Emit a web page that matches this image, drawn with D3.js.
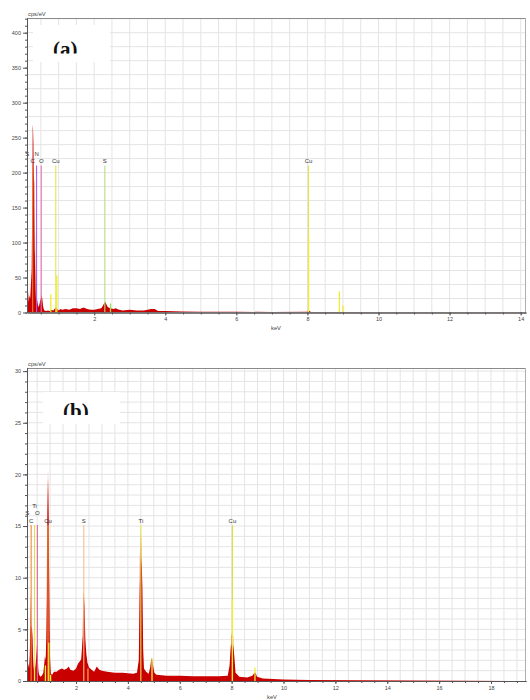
<!DOCTYPE html>
<html><head><meta charset="utf-8">
<script src="https://cdn.jsdelivr.net/npm/d3@7"></script>
<style>body{margin:0;background:#fff}svg{display:block}</style>
</head><body>
<svg id="chart" width="530" height="700"></svg>
<script>
// ================= DATA =================
// Panel (a)
const xTicksA = [2, 4, 6, 8, 10, 12, 14];
const yTicksA = [0, 50, 100, 150, 200, 250, 300, 350, 400];
// measured spectrum [keV, cps/eV]
const spectrumA = [
  [0.11,0],[0.12,40],[0.13,60],[0.14,30],[0.16,15],[0.18,25],[0.20,20],[0.22,40],[0.24,60],
  [0.25,110],[0.26,150],[0.27,269],[0.28,262],[0.29,245],[0.30,200],[0.31,120],[0.32,90],
  [0.33,82],[0.34,60],[0.35,30],[0.36,20],[0.37,12],[0.38,18],[0.39,20],[0.40,16],[0.42,10],
  [0.44,8],[0.46,12],[0.48,16],[0.50,20],[0.52,25],[0.54,20],[0.56,10],[0.58,5],[0.60,3],
  [0.65,2],[0.70,3],[0.75,2],[0.80,4],[0.85,3],[0.90,6],[0.93,8],[0.96,5],[1.00,3],[1.05,5],
  [1.10,4],[1.20,5],[1.30,4],[1.40,6],[1.50,6],[1.60,5],[1.70,7],[1.80,5],[1.90,4],[2.00,4],
  [2.10,5],[2.20,6],[2.25,10],[2.28,13],[2.31,15],[2.34,12],[2.38,8],[2.45,6],[2.55,5],
  [2.60,6],[2.70,4],[2.80,3],[3.00,4],[3.20,3],[3.40,3],[3.60,5],[3.70,5],[3.80,2],[4.00,2],
  [4.50,1.5],[5.00,1.2],[6.00,1],[7.00,0.8],[8.00,1.2],[8.04,3],[8.10,0.8],[9.00,0.8],
  [10.00,0.5],[14.15,0.3]
];
// fitted peak profiles [keV, cps/eV]
const fitA = [
  [0.11,0],[0.24,0],[0.27,150],[0.29,200],[0.32,185],[0.34,100],[0.36,0],[0.37,0],[0.39,18],
  [0.42,0],[0.48,0],[0.52,26],[0.56,0],[2.20,0],[2.28,14],[2.31,16],[2.36,0],[14.15,0]
];
// element markers (energy keV)
const elementsA = [
  {el:"S", e:0.12},{el:"C", e:0.27},{el:"N", e:0.38},{el:"O", e:0.51},
  {el:"Cu", e:0.92},{el:"S", e:2.30},{el:"Cu", e:8.03}
];
const markerHeightA = 210;   // cps/eV reached by marker lines
// secondary line intensities [keV, cps/eV]
const linesA = [
  {el:"S", e:0.12, v:108},{el:"Cu", e:0.78, v:26},{el:"Cu", e:0.95, v:53},
  {el:"S", e:2.46, v:13},{el:"Cu", e:8.03, v:108},{el:"Cu", e:8.90, v:30},{el:"Cu", e:9.00, v:10}
];

// Panel (b)
const xTicksB = [2, 4, 6, 8, 10, 12, 14, 16, 18];
const yTicksB = [0, 5, 10, 15, 20, 25, 30];
const spectrumB = [
  [0.11,0],[0.13,1],[0.16,1.7],[0.19,1.2],[0.22,2.5],[0.24,5],[0.26,8.6],[0.27,6],[0.28,5],
  [0.30,5.2],[0.32,4],[0.34,2.5],[0.36,1.5],[0.38,1],[0.40,1.8],[0.42,1.2],[0.44,1.6],
  [0.47,2.4],[0.50,3.3],[0.52,2.5],[0.55,1],[0.58,0.6],[0.62,0.4],[0.68,0.5],[0.74,0.8],
  [0.78,1.8],[0.80,2.4],[0.83,2.0],[0.86,4.4],[0.88,8],[0.90,16],[0.92,19.6],[0.94,16],
  [0.96,11],[0.98,5],[1.00,2.2],[1.03,0.7],[1.08,0.6],[1.15,0.9],[1.25,0.9],[1.35,1.1],
  [1.45,1.2],[1.55,1.1],[1.65,1.2],[1.72,1.4],[1.78,1.1],[1.90,1.0],[2.00,1.2],[2.08,1.7],
  [2.15,1.9],[2.20,2.1],[2.24,3.5],[2.27,4.4],[2.30,8.7],[2.33,7],[2.36,4],[2.40,2.6],
  [2.44,1.8],[2.50,1.3],[2.60,1.1],[2.70,0.9],[2.80,1.4],[2.90,1.1],[3.00,1.0],[3.20,0.9],
  [3.50,0.8],[3.80,0.8],[4.00,0.75],[4.20,0.7],[4.35,0.8],[4.42,2],[4.46,9],[4.49,12.2],
  [4.51,11],[4.53,12],[4.56,9],[4.59,3],[4.62,1.2],[4.70,0.9],[4.80,0.7],[4.86,1.3],
  [4.90,2.1],[4.93,2.2],[4.97,1.5],[5.02,0.8],[5.10,0.6],[5.50,0.5],[6.00,0.5],[6.50,0.45],
  [7.00,0.45],[7.50,0.45],[7.85,0.5],[7.92,1.5],[7.97,3.4],[8.00,3.6],[8.03,2.0],[8.06,3.5],
  [8.10,2.5],[8.15,0.8],[8.30,0.4],[8.60,0.35],[8.80,0.5],[8.88,0.8],[8.92,0.8],[8.98,0.4],
  [9.20,0.25],[9.60,0.2],[10.00,0.15],[11.00,0.1],[13.00,0.08],[15.00,0.05],[17.00,0.03],
  [19.35,0]
];
const fitB = [
  [0.11,0],[0.20,0],[0.23,4.5],[0.26,5.2],[0.30,5.3],[0.33,4],[0.35,0],[0.45,0],[0.48,3.5],
  [0.50,3.4],[0.53,0],[0.82,0],[0.86,5],[0.89,16.3],[0.92,20.4],[0.95,16],[0.99,0],
  [2.20,0],[2.25,4.3],[2.29,8.8],[2.32,7.2],[2.36,0],[4.42,0],[4.46,12],[4.50,14.6],
  [4.53,12.3],[4.58,0],[4.86,0],[4.92,2.2],[4.97,0],[7.94,0],[7.98,4.3],[8.02,4.7],
  [8.06,4.4],[8.10,0],[19.35,0]
];
const elementsB = [
  {el:"S", e:0.12},{el:"C", e:0.27},{el:"Ti", e:0.40},{el:"O", e:0.51},
  {el:"Cu", e:0.92},{el:"S", e:2.30},{el:"Ti", e:4.50},{el:"Cu", e:8.03}
];
const markerHeightB = 15.1;
const linesB = [
  {el:"Ti", e:0.40, v:4.9},{el:"Cu", e:0.82, v:1.5},{el:"Cu", e:0.95, v:3.7},
  {el:"Cu", e:1.02, v:0.6},{el:"S", e:2.46, v:1.2},{el:"Ti", e:4.93, v:2.2},
  {el:"Cu", e:8.03, v:7.8},{el:"Cu", e:8.90, v:1.3}
];

// ================= STYLE / LAYOUT =================
const markerColorsA = ["#a6e36b","#f07a3a","#a25cf2","#e86fb0","#e4e44a","#b4e27a","#e6e63c"];
const labelLevelA   = [1,0,1,0,0,0,0];
const lineColorsA   = {S:"#9ede5e", Cu:"#ecec30"};
const markerColorsB = ["#f2a04a","#f0883a","#e4e040","#e860a8","#f09a3a","#f8c08a","#e8e45a","#dede3a"];
const labelLevelB   = [1,0,2,1,0,0,0,0];
const lineColorsB   = {S:"#f0a050", Cu:"#f0f030", Ti:"#eeee40"};

const svg = d3.select("#chart");
const FONT = "Liberation Sans, Arial, sans-serif";

function drawPanel(cfg) {
  const x = d3.scaleLinear().domain(cfg.xDomain).range([cfg.left, cfg.right]);
  const y = d3.scaleLinear().domain([0, cfg.yMax]).range([cfg.bottom, cfg.top]);
  const g = svg.append("g");

  // grid
  const vg = d3.range(1, Math.floor(cfg.xDomain[1]*2)+1).map(i => i*0.5);
  g.append("g").selectAll("line").data(vg).join("line")
    .attr("x1", d => x(d)).attr("x2", d => x(d))
    .attr("y1", cfg.top).attr("y2", cfg.bottom)
    .attr("stroke", "#e4e4e4").attr("stroke-width", 1);
  const hg = d3.range(1, Math.floor(cfg.yMax/cfg.yGrid)+1).map(i => i*cfg.yGrid);
  g.append("g").selectAll("line").data(hg).join("line")
    .attr("x1", cfg.left).attr("x2", cfg.right)
    .attr("y1", d => y(d)).attr("y2", d => y(d))
    .attr("stroke", "#e4e4e4").attr("stroke-width", 1);

  // title box
  g.append("rect").attr("x", cfg.box[0]).attr("y", cfg.box[1])
    .attr("width", cfg.box[2]).attr("height", cfg.box[3]).attr("fill", "#fff");
  const cid = "tclip" + cfg.id;
  svg.append("clipPath").attr("id", cid).append("rect")
    .attr("x", cfg.box[0]).attr("y", cfg.box[1])
    .attr("width", cfg.box[2]).attr("height", cfg.titleClip - cfg.box[1]);
  g.append("text").attr("x", cfg.titlePos[0]).attr("y", cfg.titlePos[1])
    .attr("clip-path", `url(#${cid})`)
    .attr("font-family", "Liberation Serif, Times New Roman, serif")
    .attr("font-weight", "bold").attr("font-size", 21).attr("fill", "#111")
    .text(cfg.title);

  // plot clip
  const pid = "pclip" + cfg.id;
  svg.append("clipPath").attr("id", pid).append("rect")
    .attr("x", cfg.left).attr("y", cfg.top)
    .attr("width", cfg.right - cfg.left).attr("height", cfg.bottom - cfg.top);
  const pg = g.append("g").attr("clip-path", `url(#${pid})`);

  const area = d3.area().x(d => x(d[0])).y0(y(0)).y1(d => y(d[1]));
  pg.append("path").datum(cfg.fit).attr("d", area).attr("fill", "#e8806e");
  pg.append("path").datum(cfg.spectrum).attr("d", area).attr("fill", "#c80000");

  // marker lines
  pg.selectAll("line.mk").data(cfg.elements).join("line").attr("class", "mk")
    .attr("x1", d => x(d.e)).attr("x2", d => x(d.e))
    .attr("y1", y(0)).attr("y2", y(cfg.markerHeight))
    .attr("stroke", (d, i) => cfg.markerColors[i]).attr("stroke-width", 1.1);
  // secondary line intensities
  pg.selectAll("line.sl").data(cfg.lines).join("line").attr("class", "sl")
    .attr("x1", d => x(d.e)).attr("x2", d => x(d.e))
    .attr("y1", y(0)).attr("y2", d => y(d.v))
    .attr("stroke", d => cfg.lineColors[d.el]).attr("stroke-width", 1.3);

  // labels
  g.selectAll("text.lb").data(cfg.elements).join("text").attr("class", "lb")
    .attr("x", d => x(d.e)).attr("y", (d, i) => y(cfg.markerHeight) - 2.5 - cfg.labelLevel[i]*7.3)
    .attr("text-anchor", "middle").attr("font-family", FONT).attr("font-size", 6)
    .attr("fill", "#333").text(d => d.el);

  // frame
  g.append("line").attr("x1", cfg.left).attr("x2", cfg.right).attr("y1", cfg.top + 0.5).attr("y2", cfg.top + 0.5)
    .attr("stroke", "#8a8a8a");
  g.append("line").attr("x1", cfg.right - 0.5).attr("x2", cfg.right - 0.5).attr("y1", cfg.top).attr("y2", cfg.bottom)
    .attr("stroke", "#b0b0b0");

  // axes
  const styleAxis = sel => {
    sel.selectAll("path.domain").attr("stroke", "#555");
    sel.selectAll(".tick line").attr("stroke", "#555");
    sel.selectAll(".tick text").attr("font-family", FONT).attr("font-size", 5.5).attr("fill", "#444");
  };
  const yMinor = d3.range(0, Math.floor(cfg.yMax/cfg.yMinor)+1).map(i => i*cfg.yMinor);
  g.append("g").attr("transform", `translate(${cfg.left},0)`)
    .call(d3.axisLeft(y).tickValues(yMinor).tickSize(2).tickSizeOuter(0).tickFormat(""))
    .call(styleAxis);
  g.append("g").attr("transform", `translate(${cfg.left},0)`)
    .call(d3.axisLeft(y).tickValues(cfg.yTicks).tickSize(4).tickSizeOuter(0).tickPadding(2))
    .call(styleAxis);
  const xMinor = d3.range(1, Math.floor(cfg.xDomain[1]*2)+1).map(i => i*0.5);
  g.append("g").attr("transform", `translate(0,${cfg.bottom})`)
    .call(d3.axisBottom(x).tickValues(xMinor).tickSize(2).tickSizeOuter(0).tickFormat(""))
    .call(styleAxis);
  g.append("g").attr("transform", `translate(0,${cfg.bottom})`)
    .call(d3.axisBottom(x).tickValues(cfg.xTicks).tickSize(3).tickSizeOuter(0).tickPadding(2))
    .call(styleAxis);

  // axis titles
  g.append("text").attr("x", cfg.left + 1).attr("y", cfg.top - 2.5)
    .attr("font-family", FONT).attr("font-size", 5.8).attr("fill", "#444").text("cps/eV");
  g.append("text").attr("x", cfg.kevPos[0]).attr("y", cfg.kevPos[1]).attr("text-anchor", "middle")
    .attr("font-family", FONT).attr("font-size", 5.8).attr("fill", "#444").text("keV");
}

drawPanel({
  id: "a", left: 27, right: 526, top: 18, bottom: 312.5,
  xDomain: [0.11, 14.15], yMax: 421, yGrid: 20, yMinor: 10,
  xTicks: xTicksA, yTicks: yTicksA,
  spectrum: spectrumA, fit: fitA, elements: elementsA, markerHeight: markerHeightA,
  lines: linesA, markerColors: markerColorsA, labelLevel: labelLevelA, lineColors: lineColorsA,
  box: [33, 25, 77, 37], title: "(a)", titlePos: [53, 56], titleClip: 53.5,
  kevPos: [276, 330]
});
drawPanel({
  id: "b", left: 27, right: 526, top: 368, bottom: 681,
  xDomain: [0.11, 19.35], yMax: 30.3, yGrid: 1, yMinor: 1,
  xTicks: xTicksB, yTicks: yTicksB,
  spectrum: spectrumB, fit: fitB, elements: elementsB, markerHeight: markerHeightB,
  lines: linesB, markerColors: markerColorsB, labelLevel: labelLevelB, lineColors: lineColorsB,
  box: [43, 392, 77, 32], title: "(b)", titlePos: [63, 418], titleClip: 415,
  kevPos: [272, 699]
});
</script>
</body></html>
